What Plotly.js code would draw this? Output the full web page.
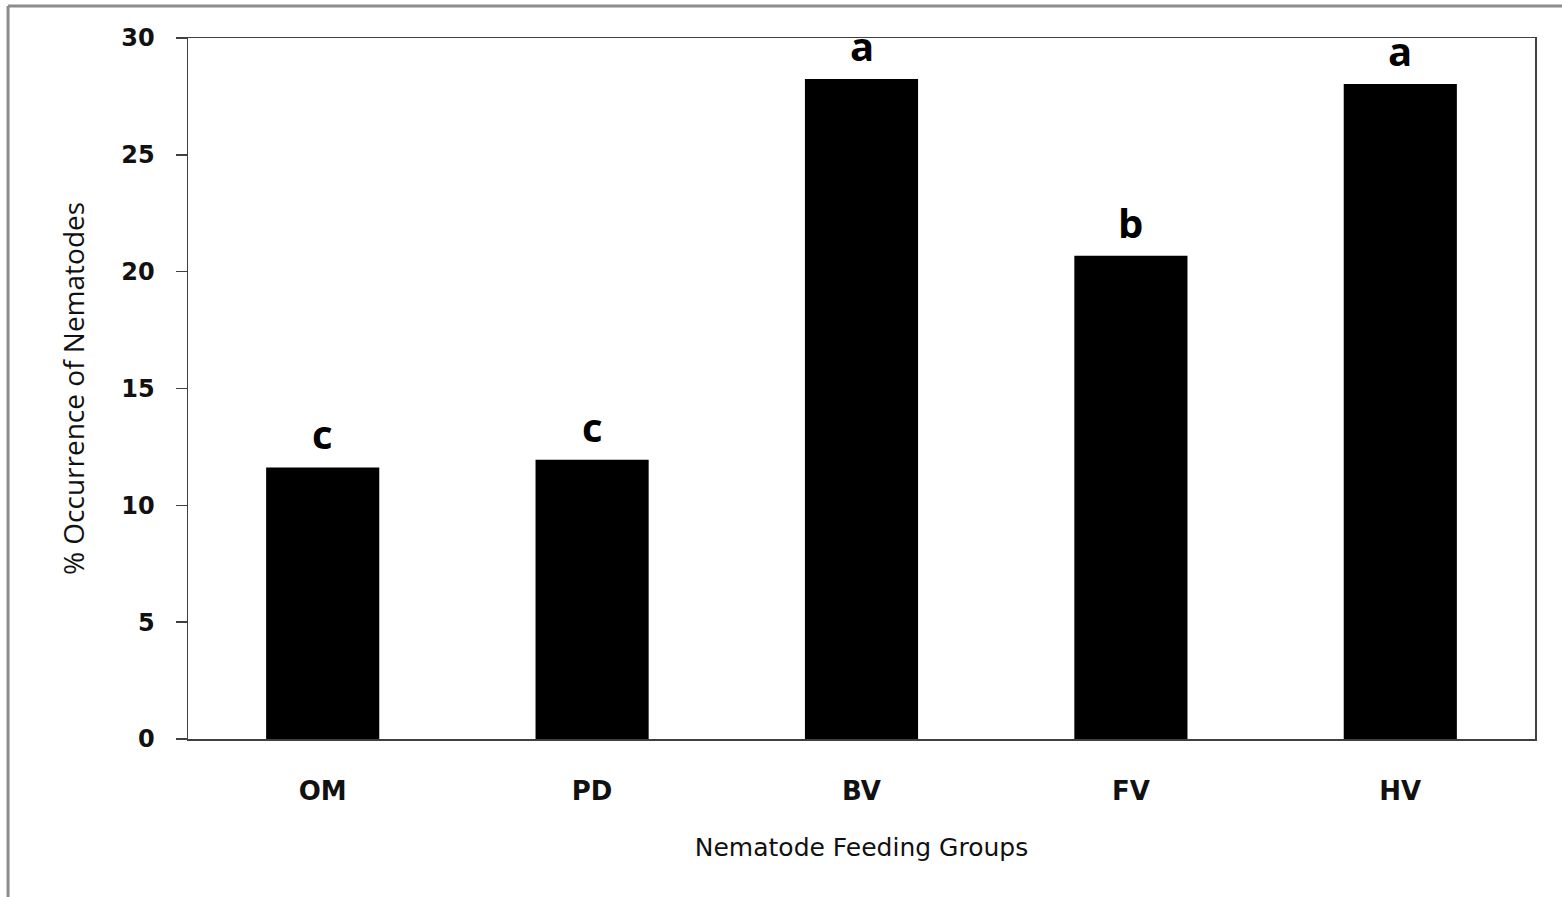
<!DOCTYPE html>
<html>
<head>
<meta charset="utf-8">
<script src="https://cdn.plot.ly/plotly-3.0.1.min.js"></script>
<style>
  html, body { margin: 0; padding: 0; background: #fff; }
  #chart { width: 1562px; height: 897px; }
</style>
</head>
<body>
<div id="chart"></div>
<script>
const categories = ["OM", "PD", "BV", "FV", "HV"];
const occurrence = [11.62, 11.95, 28.25, 20.68, 28.03];
const groupLetters = ["c", "c", "a", "b", "a"];
const yTicks = [0, 5, 10, 15, 20, 25, 30];

const trace = {
  type: "bar",
  x: categories,
  y: occurrence,
  marker: { color: "#000000", line: { width: 0 } },
  hoverinfo: "x+y"
};

const annotations = categories.map((c, i) => ({
  x: c, y: occurrence[i], xref: "x", yref: "y",
  text: groupLetters[i], showarrow: false,
  yanchor: "bottom", yshift: 4,
  font: { family: "Open Sans, sans-serif", size: 40, color: "#000", weight: 700 }
}));

const layout = {
  width: 1562, height: 897,
  margin: { l: 188, r: 27, t: 38, b: 158 },
  paper_bgcolor: "#ffffff",
  plot_bgcolor: "#ffffff",
  showlegend: false,
  bargap: 0.58,
  xaxis: {
    type: "category",
    showline: true, linecolor: "#404040", linewidth: 1.5, mirror: true,
    ticks: "", showgrid: false, zeroline: false,
    tickfont: { family: "DejaVu Sans, sans-serif", size: 26, color: "#111", weight: 700 },
    ticklabelstandoff: 28,
    title: { text: "Nematode Feeding Groups", standoff: 34,
      font: { family: "DejaVu Sans, sans-serif", size: 25, color: "#111" } }
  },
  yaxis: {
    range: [0, 30], tickvals: yTicks, ticktext: yTicks.map(String),
    showline: true, linecolor: "#404040", linewidth: 1.5, mirror: true,
    ticks: "outside", ticklen: 11, tickwidth: 1.5, tickcolor: "#404040",
    showgrid: false, zeroline: false,
    tickfont: { family: "DejaVu Sans, sans-serif", size: 24, color: "#111", weight: 700 },
    ticklabelstandoff: 16,
    title: { text: "% Occurrence of Nematodes", standoff: 28,
      font: { family: "Open Sans, sans-serif", size: 28, color: "#111" } }
  },
  annotations: annotations,
  shapes: [
    { type: "line", xref: "paper", yref: "paper", x0: -0.1336, x1: -0.1336, y0: 1.0456, y1: -0.23,
      line: { color: "#8c8c8c", width: 3 } },
    { type: "line", xref: "paper", yref: "paper", x0: -0.1336, x1: 1.03, y0: 1.0456, y1: 1.0456,
      line: { color: "#8c8c8c", width: 3 } }
  ]
};

Plotly.newPlot("chart", [trace], layout, { displayModeBar: false, staticPlot: true });
</script>
</body>
</html>
